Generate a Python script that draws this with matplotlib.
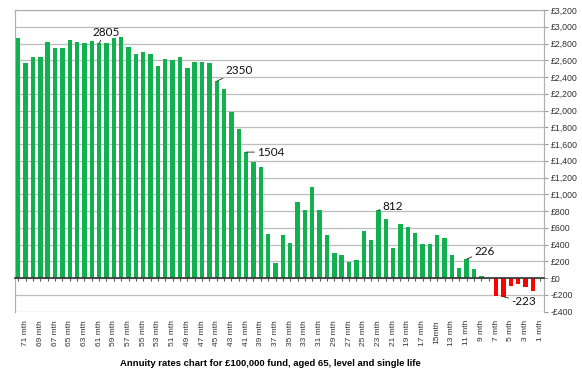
import matplotlib
matplotlib.use("Agg")
import matplotlib.pyplot as plt
import numpy as np

# months 72 .. 1
months = list(range(72, 0, -1))
values = [2863, 2569, 2637, 2637, 2816, 2748, 2752, 2844, 2824, 2808,
          2828, 2805, 2804, 2863, 2883, 2764, 2669, 2704, 2669, 2537,
          2617, 2609, 2645, 2505, 2577, 2581, 2565, 2350, 2255, 1977,
          1774, 1504, 1380, 1324, 525, 183, 517, 422, 911, 807,
          1086, 815, 517, 302, 278, 195, 211, 557, 453, 812,
          700, 362, 644, 608, 533, 410, 402, 517, 473, 278,
          119, 226, 107, 20, 0, -210, -223, -95, -75, -111,
          -151, 0]
label_months = [m for m in months if m % 2 == 1]
tick_labels = [("15mth" if m == 15 else f"{m} mth") for m in label_months]
annotated_months = [61, 45, 41, 23, 11, 6]
annot_offsets = [(-7, 11), (9, 11), (11, 0), (4, 4), (8, 8), (8, -5)]
title = "Annuity rates chart for £100,000 fund, aged 65, level and single life"
yticks = list(range(-400, 3201, 200))

green = "#13b04f"
red = "#ff0000"

fig = plt.figure(figsize=(5.82, 3.79), dpi=100)
ax = fig.add_axes([0.0251, 0.1778, 0.9093, 0.7958])

x = np.arange(len(months))
colors = [green if v >= 0 else red for v in values]
ax.bar(x, values, width=0.6, color=colors, zorder=3)

ax.set_xlim(-0.5, len(months) - 0.5)
ax.set_ylim(-400, 3200)
ax.set_yticks(yticks)
ax.yaxis.tick_right()
ax.set_yticklabels([("-£" if v < 0 else "£") + f"{abs(v):,}" for v in yticks],
                   fontsize=6.3, color="#333333", family="Liberation Sans")
ax.tick_params(axis="y", direction="out", length=3, color="#999999", pad=2)
ax.grid(axis="y", color="#bdbdbd", lw=0.9, zorder=0)

# bottom spine at zero with ticks at every category
ax.spines["bottom"].set_position(("data", 0))
ax.spines["bottom"].set_color("#333333")
ax.spines["bottom"].set_linewidth(1.2)
ax.spines["bottom"].set_zorder(4)
ax.set_xticks(x)
ax.set_xticklabels([])
ax.tick_params(axis="x", direction="out", length=2.5, width=0.8, color="#555555")
for s in ["left", "right", "top"]:
    ax.spines[s].set_color("#b0b0b0")
    ax.spines[s].set_linewidth(0.9)

sec = ax.secondary_xaxis(location=0)
sec.set_xticks([months.index(m) for m in label_months])
sec.set_xticklabels(tick_labels, rotation=90, fontsize=6, color="#333333",
                    family="Liberation Sans")
sec.tick_params(length=0, pad=6)
sec.spines["bottom"].set_visible(False)

for m, (dx, dy) in zip(annotated_months, annot_offsets):
    i = months.index(m)
    v = values[i]
    ax.annotate(f"{v}", xy=(i, v), xytext=(dx, dy), textcoords="offset pixels",
                ha="left", va="center", fontsize=8.5, family="Lato", color="#111111",
                arrowprops=dict(arrowstyle="-", color="#222222", lw=0.6,
                                shrinkA=0, shrinkB=0), zorder=5)

fig.text(0.464, 1 - 363 / 379, title, ha="center", va="center", fontsize=6.8,
         fontweight="bold", family="Liberation Sans")

fig.savefig("out.png", dpi=100)
